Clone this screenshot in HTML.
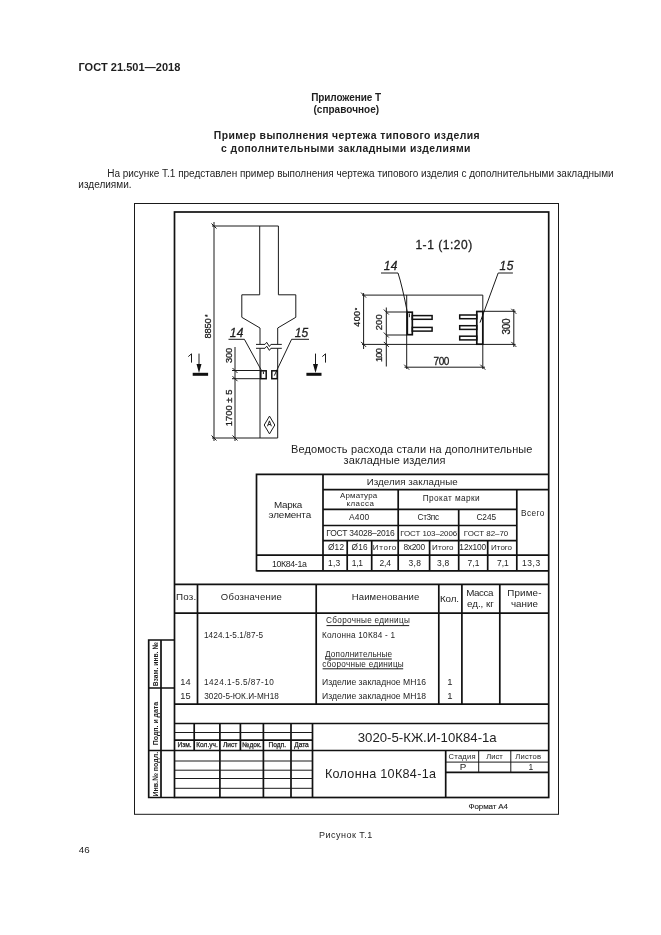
<!DOCTYPE html>
<html><head><meta charset="utf-8">
<style>
html,body{margin:0;padding:0;background:#fff;width:661px;height:935px;overflow:hidden}
svg{position:absolute;left:0;top:0;will-change:transform}
text{font-family:"Liberation Sans",sans-serif;fill:#1e1e1e}
.dim text{stroke:#1e1e1e;stroke-width:0.3}
.t{stroke:#1a1a1a;stroke-width:1;fill:none}
.k{stroke:#111;stroke-width:1.7;fill:none}
.m{stroke:#111;stroke-width:1.5;fill:none}
</style></head><body>
<svg width="661" height="935" viewBox="0 0 661 935">
<text x="78.48" y="71.10" font-size="11" font-weight="bold" textLength="101.85" lengthAdjust="spacing" >ГОСТ 21.501—2018</text>
<text x="311.15" y="101.30" font-size="10" font-weight="bold" textLength="69.85" lengthAdjust="spacing" >Приложение Т</text>
<text x="313.40" y="112.50" font-size="10" font-weight="bold" textLength="65.77" lengthAdjust="spacing" >(справочное)</text>
<text x="213.82" y="139.00" font-size="10.4" font-weight="bold" textLength="265.71" lengthAdjust="spacing" >Пример выполнения чертежа типового изделия</text>
<text x="221.08" y="151.80" font-size="10.4" font-weight="bold" textLength="249.34" lengthAdjust="spacing" >с дополнительными закладными изделиями</text>
<text x="107.20" y="176.60" font-size="10" textLength="506.48" lengthAdjust="spacing" >На рисунке Т.1 представлен пример выполнения чертежа типового изделия с дополнительными закладными</text>
<text x="78.30" y="187.60" font-size="10" textLength="53.24" lengthAdjust="spacing" >изделиями.</text>
<rect class="t" x="134.5" y="203.5" width="424" height="610.8"/>
<rect class="k" x="174.5" y="212" width="374.2" height="585.5"/>
<g class="dim">
<path class="t" d="M212 226 H278.4 M259.7 226 V294.8 M278.4 226 V294.8" />
<path class="t" d="M259.7 294.8 H241.8 V317.3 L260 328 V344.4 M260 348.3 V438 M278.4 294.8 H295.8 V317.3 L277.7 328 V344.4 M277.7 348.3 V438" />
<path class="t" d="M212 438 H277.7" />
<path class="t" d="M214 222 V441" />
<path class="t" d="M235 347 V441" />
<path class="t" d="M232 370.5 H260.5 M232 378.7 H260.5" />
<path class="t" d="M256 344.4 H265 L266.7 342.3 L269.4 346.5 L270.9 344.4 H281.8" />
<path class="t" d="M256 348.3 H265 L266.7 346.2 L269.4 350.4 L270.9 348.3 H281.8" />
<path class="t" d="M228.5 339.3 H244.4 L261.2 370" />
<path class="t" d="M263.4 371.5 V374" stroke-width="1.2"/>
<path class="t" d="M309 339.3 H291.6 L274.3 375.6" />
<path class="t" d="M199 353.6 V366 M315.5 353.6 V366" />
<path class="t" d="M269.5 416.1 L274.8 425 L269.5 433.9 L264.2 425 Z" />
<path class="t" d="M211.5 223.5 L216.5 228.5 M211.5 435.5 L216.5 440.5 M232.5 368 L237.5 373 M232.5 376.2 L237.5 381.2 M232.5 435.5 L237.5 440.5" stroke-width="1.2"/>
<path d="M196.5 364 L199 373 L201.5 364 Z M313 364 L315.5 373 L318 364 Z" fill="#111"/>
<rect x="192.7" y="372.8" width="15.4" height="3" fill="#111"/>
<rect x="306.4" y="372.8" width="15.1" height="3" fill="#111"/>
<rect class="m" x="260.8" y="370.8" width="5.4" height="7.9"/>
<rect class="m" x="271.8" y="370.8" width="5.4" height="7.9"/>
<text x="229.70" y="336.70" font-size="12" font-style="italic" textLength="13.75" lengthAdjust="spacing" >14</text>
<text x="294.70" y="336.70" font-size="12" font-style="italic" textLength="13.47" lengthAdjust="spacing" >15</text>
<path class="t" d="M188.3 356.6 L191.5 353.8 V362.6" stroke-width="1.25" stroke-linejoin="round"/>
<path class="t" d="M322.3 356.6 L325.5 353.8 V362.6" stroke-width="1.25" stroke-linejoin="round"/>
<text x="269.40" y="426.20" font-size="6.5" text-anchor="middle" >A</text>
<text transform="translate(211.10,338.42) rotate(-90)" font-size="9.4" textLength="20.15" lengthAdjust="spacing">8850</text>
<text transform="translate(209.5,317) rotate(-90)" font-size="6.5">*</text>
<text transform="translate(232.30,363.07) rotate(-90)" font-size="9.3" textLength="15.23" lengthAdjust="spacing">300</text>
<text transform="translate(232.30,426.20) rotate(-90)" font-size="9.3" textLength="36.57" lengthAdjust="spacing">1700 ± 5</text>
<text x="415.40" y="249.00" font-size="12" textLength="56.83" lengthAdjust="spacing" >1-1 (1:20)</text>
<path class="t" d="M362 295.1 H482.8 M362 344.4 H482.8" />
<path class="t" d="M406.7 295.1 V369 M482.8 295.1 V369" />
<path class="t" d="M404.5 367.2 H485" />
<path class="t" d="M363.6 293 V349" />
<path class="t" d="M386.3 307.5 V366.5" />
<path class="t" d="M386.3 312 H407 M386.3 335 H407" />
<path class="t" d="M482.8 311.3 H515.6 M482.8 344.4 H515.6" />
<path class="t" d="M513.8 309 V347" />
<path class="t" d="M381 273 H398 Q402 285 407.5 313" />
<path class="t" d="M512.9 273 H498.2 L480 322.6" />
<path class="t" d="M361.1 292.6 L366.1 297.6 M361.1 341.9 L366.1 346.9 M383.8 309.5 L388.8 314.5 M383.8 332.5 L388.8 337.5 M383.8 341.9 L388.8 346.9 M404.2 364.7 L409.2 369.7 M480.3 364.7 L485.3 369.7 M511.3 308.8 L516.3 313.8 M511.3 341.9 L516.3 346.9" stroke-width="1.2"/>
<rect class="k" x="407.3" y="312.2" width="5" height="22.5"/>
<rect class="m" x="412.3" y="315.6" width="19.8" height="3.7"/>
<path class="t" d="M409.4 313.5 V317.2" stroke-width="1.1"/>
<rect class="m" x="412.3" y="327.4" width="19.8" height="3.7"/>
<rect class="k" x="476.8" y="311.5" width="6" height="32.7"/>
<rect class="m" x="459.7" y="315" width="17.1" height="3.7"/>
<rect class="m" x="459.7" y="325.7" width="17.1" height="3.7"/>
<rect class="m" x="459.7" y="336.2" width="17.1" height="3.7"/>
<text x="383.70" y="270.00" font-size="12" font-style="italic" textLength="13.65" lengthAdjust="spacing" >14</text>
<text x="499.50" y="270.00" font-size="12" font-style="italic" textLength="13.87" lengthAdjust="spacing" >15</text>
<text x="433.50" y="365.00" font-size="10" textLength="15.89" lengthAdjust="spacing" >700</text>
<text transform="translate(360.10,326.68) rotate(-90)" font-size="9" textLength="15.73" lengthAdjust="spacing">400</text>
<text transform="translate(358.6,310.2) rotate(-90)" font-size="6">*</text>
<text transform="translate(382.40,330.37) rotate(-90)" font-size="9.4" textLength="16.03" lengthAdjust="spacing">200</text>
<text transform="translate(382.40,362.00) rotate(-90)" font-size="9.4" textLength="13.97" lengthAdjust="spacing">100</text>
<text transform="translate(510.10,334.40) rotate(-90)" font-size="10" textLength="15.99" lengthAdjust="spacing">300</text>
</g>
<text x="290.92" y="453.30" font-size="11" textLength="241.57" lengthAdjust="spacing" >Ведомость расхода стали на дополнительные</text>
<text x="343.62" y="464.20" font-size="11" textLength="101.91" lengthAdjust="spacing" >закладные изделия</text>
<path class="k" d="M256.5 474.4 H548.6 M256.5 570.8 H548.6 M256.5 555.2 H548.6 M256.5 473.6 V571.6" />
<path class="k" d="M323 474.4 V570.8 M323 489.6 H548.6 M398.2 489.6 V570.8 M516.8 489.6 V570.8" />
<path class="k" d="M323 509.4 H516.8 M323 525.5 H516.8 M323 540.6 H516.8 M458.7 509.4 V570.8" />
<path class="k" d="M347.2 540.6 V570.8 M371.7 540.6 V570.8 M429.6 540.6 V570.8 M487.7 540.6 V570.8" />
<text x="274.01" y="508.00" font-size="9.86" textLength="28.31" lengthAdjust="spacing" >Марка</text>
<text x="268.55" y="518.30" font-size="9.86" textLength="42.56" lengthAdjust="spacing" >элемента</text>
<text x="272.04" y="566.50" font-size="8.8" textLength="34.78" lengthAdjust="spacing" >10К84-1а</text>
<text x="366.72" y="485.00" font-size="9.75" textLength="90.94" lengthAdjust="spacing" >Изделия закладные</text>
<text x="340.00" y="497.70" font-size="7.95" textLength="37.20" lengthAdjust="spacing" >Арматура</text>
<text x="346.38" y="505.50" font-size="7.95" textLength="27.51" lengthAdjust="spacing" >класса</text>
<text x="349.00" y="520.40" font-size="8.48" textLength="20.30" lengthAdjust="spacing" >А400</text>
<text x="326.22" y="536.30" font-size="8.48" textLength="68.54" lengthAdjust="spacing" >ГОСТ 34028–2016</text>
<text x="422.74" y="501.30" font-size="8.27" textLength="56.84" lengthAdjust="spacing" >Прокат  марки</text>
<text x="417.59" y="520.40" font-size="8.27" textLength="21.50" lengthAdjust="spacing" >Ст3пс</text>
<text x="476.39" y="520.40" font-size="8.27" textLength="19.65" lengthAdjust="spacing" >С245</text>
<text x="400.16" y="536.30" font-size="7.95" textLength="57.06" lengthAdjust="spacing" >ГОСТ 103–2006</text>
<text x="463.86" y="536.30" font-size="7.95" textLength="44.43" lengthAdjust="spacing" >ГОСТ 82–70</text>
<text x="521.04" y="515.80" font-size="8.27" textLength="23.31" lengthAdjust="spacing" >Всего</text>
<text x="327.91" y="549.70" font-size="8.27" textLength="16.10" lengthAdjust="spacing" >Ø12</text>
<text x="351.51" y="549.70" font-size="8.27" textLength="16.02" lengthAdjust="spacing" >Ø16</text>
<text x="372.86" y="549.90" font-size="8" textLength="23.37" lengthAdjust="spacing" >Итого</text>
<text x="403.42" y="550.20" font-size="8.4" textLength="21.77" lengthAdjust="spacing" >8х200</text>
<text x="432.06" y="549.90" font-size="8" textLength="21.47" lengthAdjust="spacing" >Итого</text>
<text x="459.37" y="550.20" font-size="8.4" textLength="26.83" lengthAdjust="spacing" >12х100</text>
<text x="491.06" y="549.90" font-size="8" textLength="20.97" lengthAdjust="spacing" >Итого</text>
<text x="328.06" y="566.30" font-size="8.48" textLength="12.28" lengthAdjust="spacing" >1,3</text>
<text x="351.66" y="566.30" font-size="8.48" textLength="11.32" lengthAdjust="spacing" >1,1</text>
<text x="379.48" y="566.30" font-size="8.48" textLength="11.58" lengthAdjust="spacing" >2,4</text>
<text x="408.56" y="566.30" font-size="8.48" textLength="12.48" lengthAdjust="spacing" >3,8</text>
<text x="436.96" y="566.30" font-size="8.48" textLength="12.38" lengthAdjust="spacing" >3,8</text>
<text x="467.58" y="566.30" font-size="8.48" textLength="11.81" lengthAdjust="spacing" >7,1</text>
<text x="497.08" y="566.30" font-size="8.48" textLength="11.71" lengthAdjust="spacing" >7,1</text>
<text x="521.96" y="566.30" font-size="8.48" textLength="18.19" lengthAdjust="spacing" >13,3</text>
<path class="k" d="M174.5 584.4 H548.6 M174.5 613.1 H548.6 M174.5 704.2 H548.6" />
<path class="k" d="M197.5 584.4 V704.2 M316.2 584.4 V704.2 M438.8 584.4 V704.2 M461.9 584.4 V704.2 M499.8 584.4 V704.2" />
<text x="176.02" y="600.40" font-size="9.8" textLength="20.31" lengthAdjust="spacing" >Поз.</text>
<text x="220.87" y="600.40" font-size="9.5" textLength="60.95" lengthAdjust="spacing" >Обозначение</text>
<text x="351.64" y="600.40" font-size="9.5" textLength="67.71" lengthAdjust="spacing" >Наименование</text>
<text x="439.92" y="601.50" font-size="9.8" textLength="19.10" lengthAdjust="spacing" >Кол.</text>
<text x="466.22" y="595.60" font-size="9.8" textLength="27.30" lengthAdjust="spacing" >Масса</text>
<text x="467.11" y="606.50" font-size="9.8" textLength="26.67" lengthAdjust="spacing" >ед., кг</text>
<text x="507.22" y="595.60" font-size="9.8" textLength="34.23" lengthAdjust="spacing" >Приме-</text>
<text x="510.91" y="606.50" font-size="9.8" textLength="27.02" lengthAdjust="spacing" >чание</text>
<text x="203.98" y="638.30" font-size="8.2" textLength="59.05" lengthAdjust="spacing" >1424.1-5.1/87-5</text>
<text x="185.50" y="684.80" font-size="9.3" text-anchor="middle" >14</text>
<text x="203.98" y="684.80" font-size="8.2" textLength="69.82" lengthAdjust="spacing" >1424.1-5.5/87-10</text>
<text x="185.50" y="698.80" font-size="9.3" text-anchor="middle" >15</text>
<text x="204.27" y="698.80" font-size="8.2" textLength="74.57" lengthAdjust="spacing" >3020-5-ЮК.И-МН18</text>
<text x="326.09" y="623.40" font-size="8.2" textLength="83.69" lengthAdjust="spacing" >Сборочные единицы</text>
<path class="t" d="M326.5 625.6 H409.2" stroke-width="0.8"/>
<text x="321.94" y="638.20" font-size="8.2" textLength="73.15" lengthAdjust="spacing" >Колонна 10К84 - 1</text>
<text x="324.96" y="656.80" font-size="8.2" textLength="67.22" lengthAdjust="spacing" >Дополнительные</text>
<path class="t" d="M325 659 H391.8" stroke-width="0.8"/>
<text x="322.27" y="666.60" font-size="8.2" textLength="81.49" lengthAdjust="spacing" >сборочные единицы</text>
<path class="t" d="M322.6 668.8 H403.2" stroke-width="0.8"/>
<text x="321.91" y="684.80" font-size="8.6" textLength="104.13" lengthAdjust="spacing" >Изделие закладное МН16</text>
<text x="321.91" y="698.80" font-size="8.6" textLength="104.13" lengthAdjust="spacing" >Изделие закладное МН18</text>
<text x="450.00" y="684.80" font-size="9.5" text-anchor="middle" >1</text>
<text x="450.00" y="698.80" font-size="9.5" text-anchor="middle" >1</text>
<path class="k" d="M174.5 723.5 H548.6 M174.5 750.5 H548.6 M174.5 740.2 H312.5" />
<path class="k" d="M194.2 723.5 V750.5 M219.9 723.5 V797.5 M240.4 723.5 V750.5 M263.4 723.5 V797.5 M291 723.5 V797.5 M312.5 723.5 V797.5 M445.7 750.5 V797.5" />
<path class="k" d="M445.7 772.3 H548.6" />
<path class="t" d="M174.5 732.5 H312.5 M174.5 761 H312.5 M174.5 770.2 H312.5 M174.5 778.5 H312.5 M174.5 788.3 H312.5" />
<path class="t" d="M445.7 762.1 H548.6 M478.7 750.5 V772.3 M510.8 750.5 V772.3" />
<text x="184.50" y="746.60" font-size="6.6" text-anchor="middle" stroke="#1e1e1e" stroke-width="0.25">Изм.</text>
<text x="207.00" y="746.60" font-size="6.6" text-anchor="middle" stroke="#1e1e1e" stroke-width="0.25">Кол.уч.</text>
<text x="230.20" y="746.60" font-size="6.6" text-anchor="middle" stroke="#1e1e1e" stroke-width="0.25">Лист</text>
<text x="252.00" y="746.60" font-size="6.6" text-anchor="middle" stroke="#1e1e1e" stroke-width="0.25">№док.</text>
<text x="277.30" y="746.60" font-size="6.6" text-anchor="middle" stroke="#1e1e1e" stroke-width="0.25">Подп.</text>
<text x="301.50" y="746.60" font-size="6.6" text-anchor="middle" stroke="#1e1e1e" stroke-width="0.25">Дата</text>
<text x="448.62" y="759.30" font-size="7.6" textLength="26.90" lengthAdjust="spacing" >Стадия</text>
<text x="486.22" y="759.30" font-size="7.6" textLength="16.51" lengthAdjust="spacing" >Лист</text>
<text x="515.22" y="759.30" font-size="7.6" textLength="25.87" lengthAdjust="spacing" >Листов</text>
<text x="463.00" y="770.30" font-size="9.8" text-anchor="middle" >Р</text>
<text x="530.80" y="770.30" font-size="8.5" text-anchor="middle" >1</text>
<text x="357.77" y="742.20" font-size="13.2" textLength="138.93" lengthAdjust="spacing" >3020-5-КЖ.И-10К84-1а</text>
<text x="324.89" y="777.60" font-size="12.6" textLength="111.09" lengthAdjust="spacing" >Колонна 10К84-1а</text>
<path class="k" d="M148.7 640 H174.5 M148.7 688 H174.5 M148.7 750.5 H174.5 M148.7 797.5 H174.5 M148.7 639.2 V798.3 M161 640 V797.5" />
<text transform="translate(158.30,686.22) rotate(-90)" font-size="8" font-weight="bold" textLength="43.97" lengthAdjust="spacingAndGlyphs">Взам. инв. №</text>
<text transform="translate(158.30,745.22) rotate(-90)" font-size="8" font-weight="bold" textLength="43.34" lengthAdjust="spacingAndGlyphs">Подп. и дата</text>
<text transform="translate(158.30,796.52) rotate(-90)" font-size="8" font-weight="bold" textLength="44.66" lengthAdjust="spacingAndGlyphs">Инв.№ подл.</text>
<text x="468.56" y="809.00" font-size="8" textLength="39.41" lengthAdjust="spacing" stroke="#1e1e1e" stroke-width="0.12">Формат А4</text>
<text x="318.98" y="838.20" font-size="9" textLength="53.36" lengthAdjust="spacing" >Рисунок Т.1</text>
<text x="78.70" y="852.50" font-size="9.8" textLength="11.01" lengthAdjust="spacing" >46</text>
</svg>
</body></html>
